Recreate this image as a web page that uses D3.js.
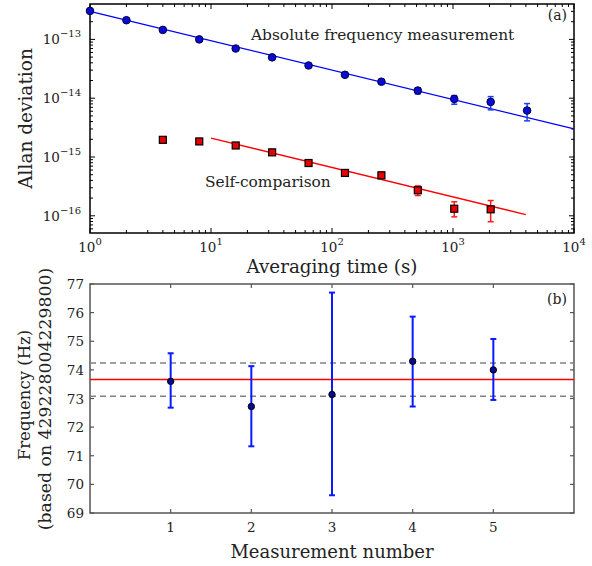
<!DOCTYPE html>
<html>
<head>
<meta charset="utf-8">
<script src="https://cdn.jsdelivr.net/npm/d3@7"></script>
<style>
  body { margin: 0; background: #fff; }
  svg text { font-family: "DejaVu Serif", serif; fill: #222; }
</style>
</head>
<body>
<svg id="chart" width="592" height="566"></svg>
<script>
// ---- panel (a): Allan deviation
const tauAbs = [1, 2, 4, 8, 16, 32, 64, 128, 256, 512, 1024, 2048, 4096];
const sigAbs = [3.05e-13, 2.12e-13, 1.45e-13, 1.0e-13, 7.0e-14, 4.95e-14, 3.6e-14, 2.5e-14, 1.91e-14, 1.35e-14, 9.7e-15, 8.65e-15, 6.17e-15];
const sigAbsLo = [3.0e-13, 2.08e-13, 1.42e-13, 0.98e-13, 6.85e-14, 4.85e-14, 3.5e-14, 2.43e-14, 1.82e-14, 1.18e-14, 7.9e-15, 6.34e-15, 4.12e-15];
const sigAbsHi = [3.1e-13, 2.16e-13, 1.48e-13, 1.02e-13, 7.15e-14, 5.05e-14, 3.7e-14, 2.57e-14, 2.0e-14, 1.5e-14, 1.11e-14, 1.065e-14, 8.1e-15];

const tauSelf = [4, 8, 16, 32, 64, 128, 256, 512, 1024, 2048];
const sigSelf = [1.96e-15, 1.84e-15, 1.57e-15, 1.2e-15, 7.9e-16, 5.36e-16, 4.88e-16, 2.72e-16, 1.32e-16, 1.29e-16];
const sigSelfLo = [1.93e-15, 1.81e-15, 1.54e-15, 1.17e-15, 7.7e-16, 5.2e-16, 4.29e-16, 2.21e-16, 9.6e-17, 7.94e-17];
const sigSelfHi = [1.99e-15, 1.87e-15, 1.60e-15, 1.23e-15, 8.1e-16, 5.5e-16, 5.48e-16, 3.22e-16, 1.73e-16, 1.82e-16];

const fitTauAbs = [1, 10000];
const fitSigAbs = [3.0e-13, 3.0e-15];
const fitTauSelf = [10, 4000];
const fitSigSelf = [2.1e-15, 1.05e-16];

const xTicksA = [1, 10, 100, 1000, 10000];
const yTicksA = [1e-13, 1e-14, 1e-15, 1e-16];

// ---- panel (b): frequency measurements
const measNo = [1, 2, 3, 4, 5];
const freq = [73.60, 72.72, 73.14, 74.30, 74.00];
const freqLo = [72.68, 71.33, 69.62, 72.72, 72.95];
const freqHi = [74.58, 74.13, 76.70, 75.86, 75.08];
const meanFreq = [73.66];
const meanBand = [73.08, 74.24];
const yTicksB = [69, 70, 71, 72, 73, 74, 75, 76, 77];

const svg = d3.select("#chart");

// ----------------------- panel (a)
const A = { left: 90, right: 574, top: 4, bottom: 233 };
const xA = d3.scaleLog().domain([1, 10000]).range([A.left, A.right]);
const yA = d3.scaleLog().domain([5.1e-17, 4.0e-13]).range([A.bottom, A.top]);

const gA = svg.append("g");

// minor + major ticks, inward, on all sides
const minorX = [];
for (let d = 0; d < 4; d++) for (let k = 2; k < 10; k++) minorX.push(k * Math.pow(10, d));
const minorY = [];
for (let d = -17; d < -12; d++) for (let k = 1; k < 10; k++) {
  const v = k * Math.pow(10, d);
  if (v > 5.1e-17 && v < 4.0e-13) minorY.push(v);
}
const ticksA = gA.append("g").attr("stroke", "#000").attr("stroke-width", 1);
minorX.forEach(v => {
  const x = xA(v);
  ticksA.append("line").attr("x1", x).attr("x2", x).attr("y1", A.bottom).attr("y2", A.bottom - 3);
  ticksA.append("line").attr("x1", x).attr("x2", x).attr("y1", A.top).attr("y2", A.top + 3);
});
xTicksA.forEach(v => {
  const x = xA(v);
  ticksA.append("line").attr("x1", x).attr("x2", x).attr("y1", A.bottom).attr("y2", A.bottom - 5);
  ticksA.append("line").attr("x1", x).attr("x2", x).attr("y1", A.top).attr("y2", A.top + 5);
});
minorY.forEach(v => {
  const y = yA(v);
  const len = yTicksA.includes(v) ? 5 : 3;
  ticksA.append("line").attr("x1", A.left).attr("x2", A.left + len).attr("y1", y).attr("y2", y);
  ticksA.append("line").attr("x1", A.right).attr("x2", A.right - len).attr("y1", y).attr("y2", y);
});

gA.append("rect")
  .attr("x", A.left).attr("y", A.top)
  .attr("width", A.right - A.left).attr("height", A.bottom - A.top)
  .attr("fill", "none").attr("stroke", "#000").attr("stroke-width", 1.5);

// tick labels
xTicksA.forEach(v => {
  const t = gA.append("text")
    .attr("x", xA(v)).attr("y", 252)
    .attr("text-anchor", "middle")
    .style("font-size", "13.5px");
  t.append("tspan").text("10");
  t.append("tspan").attr("dy", -7).style("font-size", "10px").text(Math.round(Math.log10(v)));
});
yTicksA.forEach(v => {
  const t = gA.append("text")
    .attr("x", 81).attr("y", yA(v) + 5)
    .attr("text-anchor", "end")
    .style("font-size", "13.5px");
  t.append("tspan").text("10");
  t.append("tspan").attr("dy", -7).style("font-size", "10px").text("\u2212" + Math.round(-Math.log10(v)));
});

gA.append("text")
  .attr("x", (A.left + A.right) / 2).attr("y", 273)
  .attr("text-anchor", "middle").style("font-size", "18.3px")
  .text("Averaging time (s)");
gA.append("text")
  .attr("transform", `translate(32, ${(A.top + A.bottom) / 2}) rotate(-90)`)
  .attr("text-anchor", "middle").style("font-size", "18.5px")
  .text("Allan deviation");

// fit lines
const lineA = d3.line().x(d => xA(d[0])).y(d => yA(d[1]));
gA.append("path")
  .attr("d", lineA(d3.zip(fitTauAbs, fitSigAbs)))
  .attr("stroke", "#0000ff").attr("stroke-width", 1.3).attr("fill", "none");
gA.append("path")
  .attr("d", lineA(d3.zip(fitTauSelf, fitSigSelf)))
  .attr("stroke", "#ff0000").attr("stroke-width", 1.3).attr("fill", "none");

// error bars
function errBars(g, xs, lo, hi, xS, yS, color, cap, w) {
  xs.forEach((v, i) => {
    const x = xS(v), y1 = yS(lo[i]), y2 = yS(hi[i]);
    g.append("line").attr("x1", x).attr("x2", x).attr("y1", y1).attr("y2", y2)
      .attr("stroke", color).attr("stroke-width", w);
    [y1, y2].forEach(y => g.append("line")
      .attr("x1", x - cap).attr("x2", x + cap).attr("y1", y).attr("y2", y)
      .attr("stroke", color).attr("stroke-width", w));
  });
}
errBars(gA, tauAbs, sigAbsLo, sigAbsHi, xA, yA, "#1a3cff", 3, 1.5);
errBars(gA, tauSelf, sigSelfLo, sigSelfHi, xA, yA, "#ff1a1a", 3, 1.5);

gA.selectAll(".abs")
  .data(d3.zip(tauAbs, sigAbs))
  .join("circle")
  .attr("class", "abs")
  .attr("cx", d => xA(d[0])).attr("cy", d => yA(d[1]))
  .attr("r", 3.8)
  .attr("fill", "#0a0ad8").attr("stroke", "#00003a").attr("stroke-width", 1);

gA.selectAll(".self")
  .data(d3.zip(tauSelf, sigSelf))
  .join("rect")
  .attr("class", "self")
  .attr("x", d => xA(d[0]) - 3.5).attr("y", d => yA(d[1]) - 3.5)
  .attr("width", 7).attr("height", 7)
  .attr("fill", "#e60000").attr("stroke", "#000").attr("stroke-width", 1.2);

gA.append("text").attr("x", 251).attr("y", 40).style("font-size", "15.4px")
  .text("Absolute frequency measurement");
gA.append("text").attr("x", 205).attr("y", 187).style("font-size", "15.4px")
  .text("Self-comparison");
gA.append("text").attr("x", 567).attr("y", 20).attr("text-anchor", "end").style("font-size", "14px")
  .text("(a)");

// ----------------------- panel (b)
const B = { left: 90, right: 574, top: 284, bottom: 513 };
const xB = d3.scaleLinear().domain([0, 6]).range([B.left, B.right]);
const yB = d3.scaleLinear().domain([69, 77]).range([B.bottom, B.top]);
const gB = svg.append("g");
const frameCol = "#555";

const ticksB = gB.append("g").attr("stroke", frameCol).attr("stroke-width", 1.2);
measNo.forEach(v => {
  const x = xB(v);
  ticksB.append("line").attr("x1", x).attr("x2", x).attr("y1", B.bottom).attr("y2", B.bottom - 4);
  ticksB.append("line").attr("x1", x).attr("x2", x).attr("y1", B.top).attr("y2", B.top + 4);
});
yTicksB.forEach(v => {
  const y = yB(v);
  ticksB.append("line").attr("x1", B.left).attr("x2", B.left + 4).attr("y1", y).attr("y2", y);
  ticksB.append("line").attr("x1", B.right).attr("x2", B.right - 4).attr("y1", y).attr("y2", y);
});

gB.append("rect")
  .attr("x", B.left).attr("y", B.top)
  .attr("width", B.right - B.left).attr("height", B.bottom - B.top)
  .attr("fill", "none").attr("stroke", frameCol).attr("stroke-width", 1.5);

measNo.forEach(v => gB.append("text")
  .attr("x", xB(v)).attr("y", 532).attr("text-anchor", "middle").style("font-size", "13.5px")
  .text(v));
yTicksB.forEach(v => gB.append("text")
  .attr("x", 84).attr("y", yB(v) + 5).attr("text-anchor", "end").style("font-size", "13.5px")
  .text(v));

gB.append("text")
  .attr("x", (B.left + B.right) / 2).attr("y", 558)
  .attr("text-anchor", "middle").style("font-size", "18px")
  .text("Measurement number");
gB.append("text")
  .attr("transform", `translate(30, 395) rotate(-90)`)
  .attr("text-anchor", "middle").style("font-size", "16.5px")
  .text("Frequency (Hz)");
gB.append("text")
  .attr("transform", `translate(51, 399) rotate(-90)`)
  .attr("text-anchor", "middle").style("font-size", "17.3px")
  .text("(based on 429228004229800)");

meanBand.forEach(v => gB.append("line")
  .attr("x1", B.left).attr("x2", B.right).attr("y1", yB(v)).attr("y2", yB(v))
  .attr("stroke", "#808080").attr("stroke-width", 1.5).attr("stroke-dasharray", "6,4"));
meanFreq.forEach(v => gB.append("line")
  .attr("x1", B.left).attr("x2", B.right).attr("y1", yB(v)).attr("y2", yB(v))
  .attr("stroke", "#ff0000").attr("stroke-width", 1.5));

errBars(gB, measNo, freqLo, freqHi, xB, yB, "#0a1aff", 3, 2);

gB.selectAll(".meas")
  .data(d3.zip(measNo, freq))
  .join("circle")
  .attr("class", "meas")
  .attr("cx", d => xB(d[0])).attr("cy", d => yB(d[1]))
  .attr("r", 3.2)
  .attr("fill", "#0a0a90").attr("stroke", "#000").attr("stroke-width", 1);

gB.append("text").attr("x", 567).attr("y", 304).attr("text-anchor", "end").style("font-size", "14px")
  .text("(b)");
</script>
</body>
</html>
